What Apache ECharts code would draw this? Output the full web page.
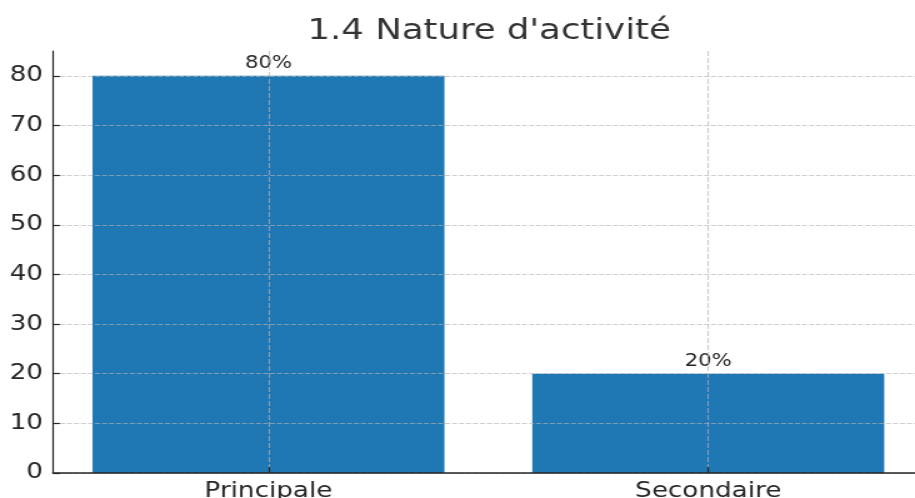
<!DOCTYPE html>
<html>
<head>
<meta charset="utf-8">
<script src="https://cdn.jsdelivr.net/npm/echarts@6/dist/echarts.min.js"></script>
<style>
  html, body { margin: 0; padding: 0; background: #fff; overflow: hidden; }
  /* the reference picture is stretched sideways, so draw narrower and stretch;
     the plot runs past the right edge of the window, so the box is wider than 915/1.25 */
  #chart { width: 745px; height: 498px; transform: scaleX(1.25); transform-origin: 0 0; }
</style>
</head>
<body>
<div id="chart"></div>
<script>
const categories = ["Principale", "Secondaire"];
const values = [80, 20];
const yTicks = [0, 10, 20, 30, 40, 50, 60, 70, 80];
const catTicks = [0, 1];

const font = "DejaVu Sans";
const textColor = "#262626";
const gridColor = "rgba(180, 180, 180, 0.65)";

const myChart = echarts.init(document.getElementById("chart"));
myChart.setOption({
  animation: false,
  title: {
    text: "1.4 Nature d'activité",
    left: 246,
    top: 18,
    padding: 0,
    textStyle: { fontFamily: font, fontSize: 28.4, fontWeight: "normal", color: "#333" },
  },
  grid: { left: 42.4, right: 6, top: 51, bottom: 25, outerBoundsMode: "none", containLabel: false },
  xAxis: {
    type: "value",
    min: -0.49,
    max: 1.49,
    z: 3,
    axisLine: { show: true, onZero: false, lineStyle: { color: textColor, width: 1.5 } },
    axisTick: { show: true, inside: true, length: 6, customValues: catTicks, lineStyle: { color: textColor, width: 1.2 } },
    axisLabel: {
      customValues: catTicks,
      formatter: (v) => categories[v] || "",
      margin: 8,
      fontFamily: font,
      fontSize: 21,
      color: textColor,
    },
    splitLine: { show: true, lineStyle: { color: gridColor, type: [5, 2], width: 1.2 } },
  },
  yAxis: {
    type: "value",
    min: 0,
    max: 85,
    z: 3,
    axisLine: { show: true, onZero: false, lineStyle: { color: textColor, width: 1.2 } },
    axisTick: { show: true, inside: true, length: 5.5, customValues: yTicks, lineStyle: { color: textColor, width: 1.2 } },
    axisLabel: {
      customValues: yTicks,
      margin: 8,
      fontFamily: font,
      fontSize: 21,
      color: textColor,
    },
    splitLine: { show: true, lineStyle: { color: gridColor, type: [4, 1.6], width: 1.2 } },
  },
  series: [
    {
      type: "bar",
      z: 2,
      barWidth: 281.5,
      data: values.map((v, i) => [i, v]),
      itemStyle: { color: "#1f77b4" },
      label: {
        show: true,
        position: "top",
        distance: 4,
        formatter: (p) => p.value[1] + "%",
        fontFamily: font,
        fontSize: 17,
        color: textColor,
      },
    },
  ],
});
</script>
</body>
</html>
